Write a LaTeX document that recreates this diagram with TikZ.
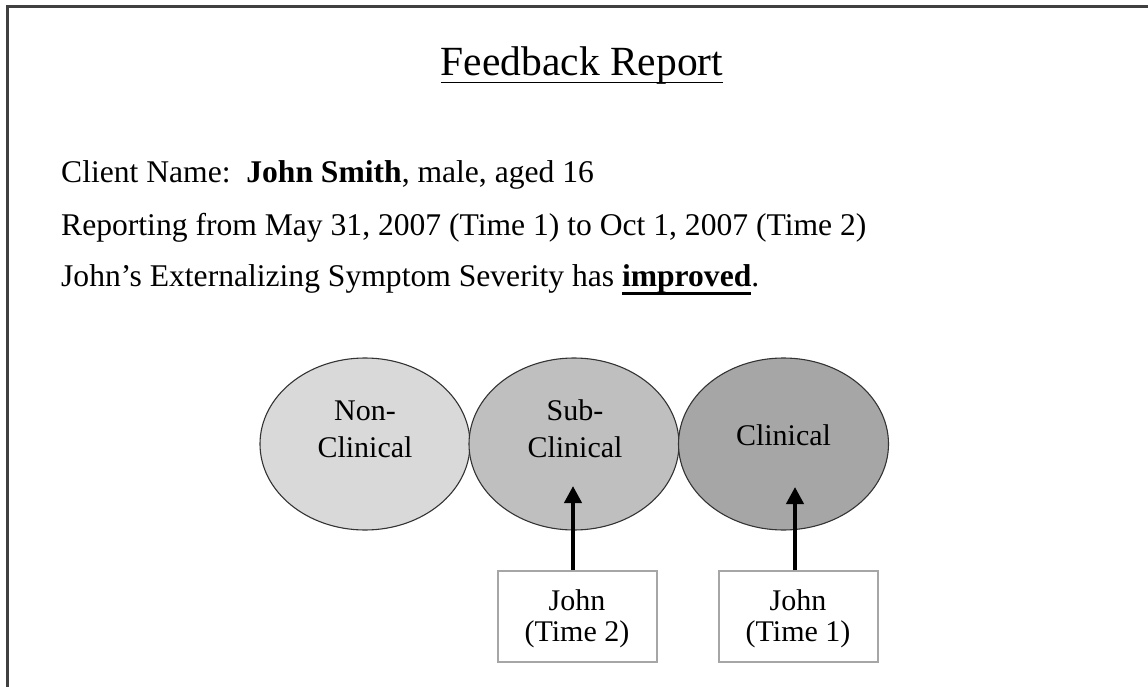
\documentclass[tikz,border=0pt]{standalone}
\usepackage{fontspec}
\setmainfont{Liberation Serif}
\usetikzlibrary{shapes.geometric,arrows.meta}

% underline with a rule of chosen depth and thickness
\newcommand{\rptul}[3]{\setbox0=\hbox{#3}\rlap{\rule[-#1]{\wd0}{#2}}\box0}

\definecolor{framegray}{HTML}{404040}
\definecolor{boxgray}{HTML}{A6A6A6}
\definecolor{fillnon}{HTML}{D9D9D9}
\definecolor{fillsub}{HTML}{BFBFBF}
\definecolor{fillcli}{HTML}{A6A6A6}

\tikzset{
  bodytext/.style={inner sep=0pt, anchor=base west, font=\fontsize{31.6}{36}\selectfont},
  titletext/.style={inner sep=0pt, anchor=base, font=\fontsize{41.5}{48}\selectfont},
  zone/.style={ellipse, draw=black!80, line width=1.1pt, minimum width=210pt, minimum height=172pt, inner sep=0pt},
  zonetext/.style={inner sep=0pt, anchor=base, font=\fontsize{30}{36}\selectfont},
  timebox/.style={rectangle, draw=boxgray, line width=1.3pt, minimum width=159pt, minimum height=91pt, inner sep=0pt},
  pointer/.style={line width=4pt, -{Triangle[width=17pt,length=17pt]}},
}

\begin{document}
\begin{tikzpicture}[x=1pt, y=-1pt]
\useasboundingbox (0,0) rectangle (1148,687);

% page frame (cut off at the right and bottom)
\draw[framegray, line width=2.5pt] (7.5,687) -- (7.5,6.5) -- (1148,6.5);

% heading
\node[titletext] (title) at (582,76) {\rptul{7.2pt}{1.5pt}{Feedback Report}};

% client details
\node[bodytext] (line1) at (61,182.5) {Client Name:\ \ \textbf{John Smith}, male, aged 16};
\node[bodytext] (line2) at (61,235) {Reporting from May 31, 2007 (Time 1) to Oct 1, 2007 (Time 2)};
\node[bodytext] (line3) at (61,286) {John’s Externalizing Symptom Severity has \rptul{8.5pt}{3pt}{\textbf{improved}}.};

% severity zones
\node[zone, fill=fillnon] (non) at (365,444) {};
\node[zone, fill=fillsub] (sub) at (574,444) {};
\node[zone, fill=fillcli] (cli) at (783.5,444) {};

\node[zonetext] (nonA) at (365,420) {Non-};
\node[zonetext] (nonB) at (365,457) {Clinical};
\node[zonetext] (subA) at (575,420) {Sub-};
\node[zonetext] (subB) at (575,457) {Clinical};
\node[zonetext] (cliA) at (783.5,445) {Clinical};

% time points
\node[timebox] (t2) at (577.5,616.5) {};
\node[timebox] (t1) at (798.5,616.5) {};
\node[zonetext] (t2A) at (577,610) {John};
\node[zonetext] (t2B) at (577,641) {(Time 2)};
\node[zonetext] (t1A) at (798,610) {John};
\node[zonetext] (t1B) at (798,641) {(Time 1)};

% arrows from the time points into the zones
\coordinate (tip2) at (573,486);
\coordinate (tip1) at (795,487);
\draw[pointer] (t2.north -| tip2) -- (tip2);
\draw[pointer] (t1.north -| tip1) -- (tip1);
\end{tikzpicture}
\end{document}
